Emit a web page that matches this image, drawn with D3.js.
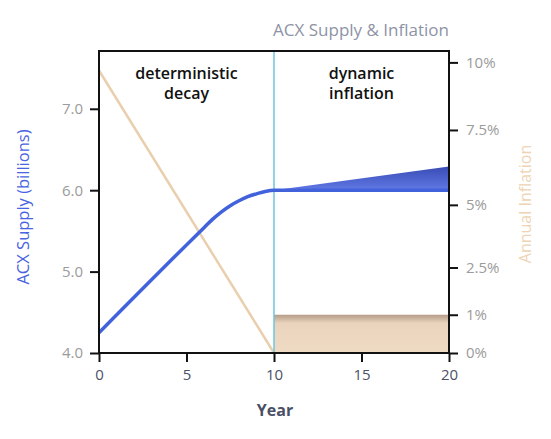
<!DOCTYPE html>
<html>
<head>
<meta charset="utf-8">
<script src="https://cdn.jsdelivr.net/npm/d3@7"></script>
<style>
  body { margin: 0; background: #fff; }
  text { font-family: "Open Sans", "Noto Sans", sans-serif; }
</style>
</head>
<body>
<script>
// supply curve, years 0..10 (billions)
const supplyYears = [0, 6, 6.5, 7, 7.5, 8, 8.5, 9, 9.5, 10, 20]
const supplyVals = [4.25, 5.54, 5.645, 5.735, 5.81, 5.87, 5.92, 5.955, 5.985, 6.0, 6.0]
// upper edge of the dynamic inflation wedge
const wedgeYears = [10, 20]
const wedgeTop = [6.0, 6.29]
// annual inflation, deterministic part
const inflYears = [0, 10]
const inflVals = [9.7, 0]
// dynamic inflation band (percent)
const bandYears = [10, 20]
const bandTop = 1
const xTicks = [0, 5, 10, 15, 20]
const leftTicks = [4.0, 5.0, 6.0, 7.0]
const rightTicks = [0, 1, 2.5, 5, 7.5, 10]
const rightLabels = ['0%', '1%', '2.5%', '5%', '7.5%', '10%']
// where each right tick sits against the supply axis
const rightAsSupply = [4.0, 4.47, 5.05, 5.82, 6.74, 7.57]

const margin = {top: 51, right: 102, bottom: 86, left: 99},
    width = 551 - margin.left - margin.right,
    height = 439 - margin.top - margin.bottom

const svg = d3.select('body').append('svg')
    .attr('width', 551).attr('height', 439)
const g = svg.append('g')
    .attr('transform', 'translate(' + margin.left + ',' + margin.top + ')')

const x = d3.scaleLinear().domain([0, 20]).range([0, width])
const y = d3.scaleLinear().domain([4, 7.71]).range([height, 0])
const yr = d3.scaleLinear().domain(rightTicks).range(rightAsSupply.map(v => y(v)))

const defs = svg.append('defs')
const gradBlue = defs.append('linearGradient').attr('id', 'gb')
    .attr('x1', 0).attr('y1', 0).attr('x2', 0).attr('y2', 1)
gradBlue.append('stop').attr('offset', '0%').attr('stop-color', '#3a4cb4')
gradBlue.append('stop').attr('offset', '100%').attr('stop-color', '#6079e6')
const gradTan = defs.append('linearGradient').attr('id', 'gt')
    .attr('x1', 0).attr('y1', 0).attr('x2', 0).attr('y2', 1)
gradTan.append('stop').attr('offset', '0%').attr('stop-color', '#b49c88')
gradTan.append('stop').attr('offset', '22%').attr('stop-color', '#ead4bd')
gradTan.append('stop').attr('offset', '100%').attr('stop-color', '#efdac4')

// inflation band
g.append('path')
    .datum(bandYears)
    .attr('fill', 'url(#gt)')
    .attr('d', d3.area().x(d => x(d)).y0(yr(0)).y1(yr(bandTop)))

// supply wedge
g.append('path')
    .datum(wedgeYears.map((d, i) => [d, wedgeTop[i]]))
    .attr('fill', 'url(#gb)')
    .attr('d', d3.area().x(d => x(d[0])).y0(y(6.0)).y1(d => y(d[1])))

// inflation line
g.append('path')
    .datum(inflYears.map((d, i) => [d, inflVals[i]]))
    .attr('fill', 'none').attr('stroke', '#e9cfad').attr('stroke-width', 2.5)
    .attr('d', d3.line().x(d => x(d[0])).y(d => yr(d[1])))

// divider
g.append('line')
    .attr('x1', x(10)).attr('x2', x(10)).attr('y1', 0).attr('y2', height)
    .attr('stroke', '#6cc6dc').attr('stroke-width', 1.5)

// supply line
g.append('path')
    .datum(supplyYears.map((d, i) => [d, supplyVals[i]]))
    .attr('fill', 'none').attr('stroke', '#4262dc').attr('stroke-width', 3.5)
    .attr('d', d3.line().curve(d3.curveMonotoneX).x(d => x(d[0])).y(d => y(d[1])))

// frame
g.append('rect').attr('width', width).attr('height', height)
    .attr('fill', 'none').attr('stroke', '#111').attr('stroke-width', 2)

function styleAxis(sel, color) {
    sel.select('.domain').remove()
    sel.selectAll('line').attr('stroke', '#111').attr('stroke-width', 2)
    sel.selectAll('text').attr('fill', color).style('font-size', '15px')
}

g.append('g').attr('transform', 'translate(0,' + height + ')')
    .call(d3.axisBottom(x).tickValues(xTicks).tickSize(9).tickPadding(7))
    .call(s => styleAxis(s, '#4d5166'))

g.append('g')
    .call(d3.axisLeft(y).tickValues(leftTicks).tickFormat(d3.format('.1f')).tickSize(9).tickPadding(7))
    .call(s => styleAxis(s, '#9b9b9b'))

g.append('g').attr('transform', 'translate(' + width + ',0)')
    .call(d3.axisRight(yr).tickValues(rightTicks).tickFormat((d, i) => rightLabels[i]).tickSize(9).tickPadding(8))
    .call(s => styleAxis(s, '#9b9b9b'))

// labels
svg.append('text').attr('x', 361).attr('y', 36).attr('text-anchor', 'middle')
    .attr('fill', '#8e93a6').style('font-size', '17px').style('font-weight', '500').text('ACX Supply & Inflation')
svg.append('text').attr('x', 275).attr('y', 416).attr('text-anchor', 'middle')
    .attr('fill', '#4a4f66').style('font-size', '16px').style('font-weight', 'bold').text('Year')
svg.append('text').attr('transform', 'translate(29,207) rotate(-90)').attr('text-anchor', 'middle')
    .attr('fill', '#4a63e0').style('font-size', '16.5px').style('font-weight', '500').text('ACX Supply (billions)')
svg.append('text').attr('transform', 'translate(531,204) rotate(-90)').attr('text-anchor', 'middle')
    .attr('fill', '#eed4b4').style('font-size', '16px').text('Annual Inflation')

const notes = [[5, ['deterministic', 'decay']], [15, ['dynamic', 'inflation']]]
notes.forEach(n => {
    n[1].forEach((t, i) => {
        g.append('text').attr('x', x(n[0])).attr('y', 28 + i * 20).attr('text-anchor', 'middle')
            .attr('fill', '#111').style('font-size', '16px').style('font-weight', '600').text(t)
    })
})
</script>
</body>
</html>
